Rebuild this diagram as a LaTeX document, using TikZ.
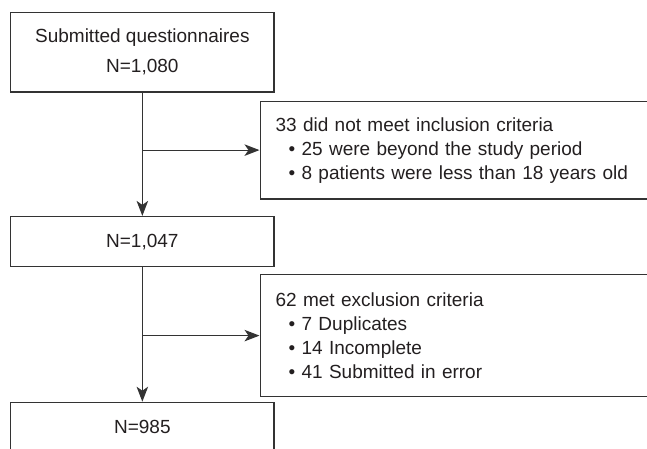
\documentclass[tikz,border=0pt]{standalone}
\usepackage{fontspec}
\setmainfont{Liberation Sans}
\usetikzlibrary{arrows.meta}
\definecolor{linec}{HTML}{333333}
\definecolor{textc}{HTML}{231F20}
\begin{document}
\begin{tikzpicture}[x=1pt,y=-1pt,
  box/.style={draw=linec, line width=1.2pt, rectangle, inner sep=0pt, text=textc},
  sidebox/.style={box, anchor=north west, minimum width=460pt, align=left, text width=429pt, inner xsep=15.5pt, inner ysep=0pt},
  arr/.style={draw=linec, line width=1.2pt, -{Stealth[length=15pt,width=11.5pt,inset=4pt]}},
  every node/.style={font=\fontsize{19}{24}\selectfont}]
\useasboundingbox (0,0) rectangle (647,448);
\clip (0,0) rectangle (647,448);
\node[box, minimum width=263.3pt, minimum height=79.5pt, align=center, font=\fontsize{19}{30}\selectfont] (b1) at (142.35,52.25) {Submitted questionnaires\\N=1,080};
\node[sidebox, minimum height=97.6pt] (s1) at (259.5,100.7) {33 did not meet inclusion criteria\\\hspace*{13pt}\textbullet\ 25 were beyond the study period\\\hspace*{13pt}\textbullet\ 8 patients were less than 18 years old};
\node[box, minimum width=263.3pt, minimum height=50.2pt] (b2) at (142.35,241.6) {N=1,047};
\node[sidebox, minimum height=122pt] (s2) at (259.5,274) {62 met exclusion criteria\\\hspace*{13pt}\textbullet\ 7 Duplicates\\\hspace*{13pt}\textbullet\ 14 Incomplete\\\hspace*{13pt}\textbullet\ 41 Submitted in error};
\node[box, minimum width=263.3pt, minimum height=50pt] (b3) at (142.35,427.3) {N=985};
\draw[arr] (b1.south) -- (b2.north);
\draw[arr] (b1.south |- s1.west) -- (s1.west);
\draw[arr] (b2.south) -- (b3.north);
\draw[arr] (b2.south |- s2.west) -- (s2.west);
\end{tikzpicture}
\end{document}
